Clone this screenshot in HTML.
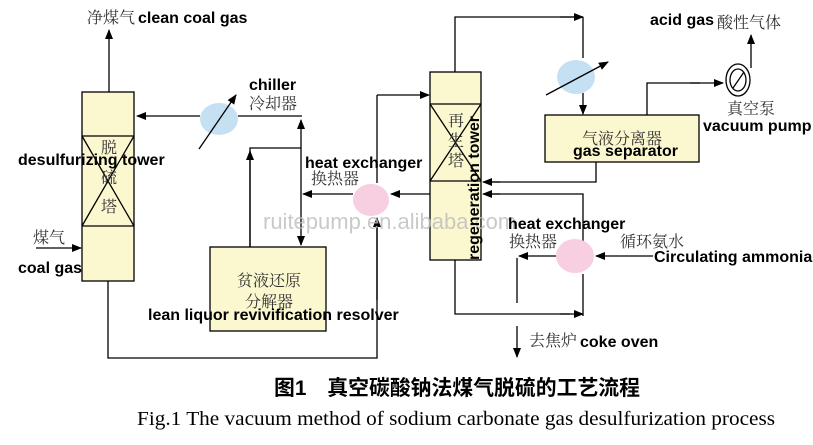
<!DOCTYPE html>
<html><head><meta charset="utf-8"><style>
html,body{margin:0;padding:0;background:#fff;}
svg{display:block}
.b{font-family:"Liberation Sans",Arial,sans-serif;font-weight:bold;font-size:16px;fill:#000}
.c{font-family:"Liberation Serif","Noto Serif CJK SC",serif;font-size:16px;fill:#333}
</style></head><body>
<svg width="813" height="445" viewBox="0 0 813 445" xmlns="http://www.w3.org/2000/svg">
<defs><marker id="a" markerWidth="10" markerHeight="8" refX="9" refY="4" orient="auto" markerUnits="userSpaceOnUse"><path d="M0,0 L10,4 L0,8 z" fill="#000"/></marker></defs>
<g stroke="#000" stroke-width="1.3" fill="none">
<rect x="82" y="92" width="52" height="189" fill="#fbf7cf"/>
<line x1="82" y1="136" x2="134" y2="136"/><line x1="82" y1="226" x2="134" y2="226"/>
<line x1="82" y1="136" x2="134" y2="226"/><line x1="134" y1="136" x2="82" y2="226"/>
<line x1="109" y1="92" x2="109" y2="30" marker-end="url(#a)"/>
<line x1="36" y1="248" x2="81" y2="248" marker-end="url(#a)"/>
<line x1="200" y1="116" x2="137" y2="116" marker-end="url(#a)"/>
<line x1="238" y1="116" x2="302" y2="116"/>
<line x1="301" y1="194" x2="301" y2="120" marker-end="url(#a)"/>
<line x1="301" y1="194" x2="301" y2="245" marker-end="url(#a)"/>
<polyline points="301,148 250,148 250,247"/>
<line x1="250" y1="247" x2="250" y2="151" marker-end="url(#a)"/>
<rect x="210" y="247" width="116" height="84" fill="#fbf7cf"/>
<polyline points="108,281 108,358 377,358 377,220"/>
<line x1="377" y1="300" x2="377" y2="218" marker-end="url(#a)"/>
<line x1="377" y1="183" x2="377" y2="95"/>
<line x1="377" y1="95" x2="429" y2="95" marker-end="url(#a)"/>
<line x1="353" y1="194" x2="303" y2="194" marker-end="url(#a)"/>
<line x1="430" y1="194" x2="391" y2="194" marker-end="url(#a)"/>
<rect x="430" y="72" width="51" height="188" fill="#fbf7cf"/>
<line x1="430" y1="104" x2="481" y2="104"/><line x1="430" y1="181" x2="481" y2="181"/>
<line x1="430" y1="104" x2="481" y2="181"/><line x1="481" y1="104" x2="430" y2="181"/>
<polyline points="455,72 455,17 580,17"/>
<line x1="560" y1="17" x2="583" y2="17" marker-end="url(#a)"/>
<line x1="583" y1="17" x2="583" y2="58"/>
<line x1="583" y1="93" x2="583" y2="114" marker-end="url(#a)"/>
<rect x="545" y="115" width="154" height="47" fill="#fbf7cf"/>
<polyline points="596,162 596,182 490,182"/>
<line x1="500" y1="182" x2="483" y2="182" marker-end="url(#a)"/>
<polyline points="583,258 583,194 490,194"/>
<line x1="500" y1="194" x2="483" y2="194" marker-end="url(#a)"/>
<polyline points="647,115 647,83 700,83"/>
<line x1="690" y1="83" x2="723" y2="83" marker-end="url(#a)"/>
<line x1="751" y1="68" x2="751" y2="35" marker-end="url(#a)"/>
<line x1="653" y1="256" x2="596" y2="256" marker-end="url(#a)"/>
<line x1="557" y1="256" x2="519" y2="256" marker-end="url(#a)"/>
<line x1="517" y1="258" x2="517" y2="303"/>
<polyline points="455,260 455,314 570,314"/>
<line x1="560" y1="314" x2="583" y2="314" marker-end="url(#a)"/>
<line x1="583" y1="274" x2="583" y2="316"/>
<line x1="517" y1="326" x2="517" y2="357" marker-end="url(#a)"/>
</g>
<ellipse cx="219" cy="119" rx="19" ry="16" fill="#c5e0f2"/>
<line x1="199" y1="149" x2="236" y2="95" stroke="#000" stroke-width="1.3" marker-end="url(#a)"/>
<ellipse cx="371" cy="200" rx="18" ry="16" fill="#f7cfe0"/>
<ellipse cx="576" cy="77" rx="19" ry="17" fill="#c5e0f2"/>
<line x1="546" y1="95" x2="608" y2="62" stroke="#000" stroke-width="1.3" marker-end="url(#a)"/>
<ellipse cx="575" cy="256" rx="19" ry="17" fill="#f7cfe0"/>
<ellipse cx="738" cy="80" rx="12" ry="16" fill="#fff" stroke="#000" stroke-width="1.3"/>
<ellipse cx="738" cy="80" rx="8" ry="11" fill="none" stroke="#000" stroke-width="1.3"/>
<line x1="733" y1="88" x2="744" y2="72" stroke="#000" stroke-width="1.3"/>
<text x="87" y="23" class="c">净煤气</text><text x="138" y="23" class="b">clean coal gas</text>
<text x="249" y="90" class="b">chiller</text><text x="249" y="109" class="c">冷却器</text>
<text x="101" y="153" class="c">脱</text><text x="101" y="183" class="c">硫</text><text x="101" y="212" class="c">塔</text>
<text x="18" y="165" class="b">desulfurizing tower</text>
<text x="33" y="243" class="c">煤气</text><text x="18" y="273" class="b">coal gas</text>
<text x="305" y="168" class="b">heat exchanger</text><text x="311" y="184" class="c">换热器</text>
<text x="237" y="286" class="c">贫液还原</text><text x="245" y="307" class="c">分解器</text>
<text x="148" y="320" class="b">lean liquor revivification resolver</text>
<text x="263" y="229" font-family="Liberation Sans,sans-serif" font-size="22" fill="#bbb" fill-opacity="0.8">ruitepump.en.alibaba.com</text>
<text x="448" y="126" class="c">再</text><text x="448" y="146" class="c">生</text><text x="448" y="166" class="c">塔</text>
<text transform="translate(479,260) rotate(-90)" class="b">regeneration tower</text>
<text x="650" y="25" class="b">acid gas</text><text x="717" y="28" class="c">酸性气体</text>
<text x="727" y="114" class="c">真空泵</text><text x="703" y="131" class="b">vacuum pump</text>
<text x="582" y="144" class="c">气液分离器</text><text x="573" y="156" class="b">gas separator</text>
<text x="508" y="229" class="b">heat exchanger</text><text x="509" y="247" class="c">换热器</text>
<text x="620" y="247" class="c">循环氨水</text><text x="654" y="262" class="b">Circulating ammonia</text>
<text x="529" y="346" class="c">去焦炉</text><text x="580" y="347" class="b">coke oven</text>
<text x="274" y="395" font-family="Liberation Sans,'Noto Sans CJK SC',sans-serif" font-size="21" font-weight="bold" textLength="366" lengthAdjust="spacingAndGlyphs">图1　真空碳酸钠法煤气脱硫的工艺流程</text>
<text x="137" y="425" font-family="Liberation Serif,serif" font-size="20" textLength="638" lengthAdjust="spacingAndGlyphs">Fig.1  The vacuum method of sodium carbonate gas desulfurization process</text>
</svg>
</body></html>
